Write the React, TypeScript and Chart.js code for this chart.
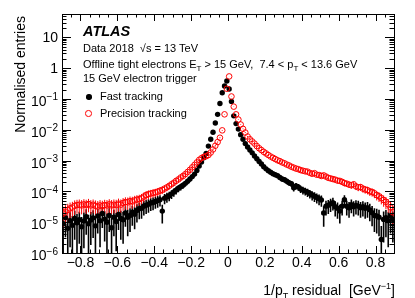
import React, { useEffect, useRef } from "react";
import { Chart, registerables } from "chart.js";

Chart.register(...registerables);

// ---------- axis ranges / binning ----------
const X_MIN = -0.9;
const X_MAX = 0.9;
const Y_MIN = 1e-6;
const Y_MAX = 57;
const BIN_WIDTH = 0.0125;
const N_BINS = 144;
const binCenters: number[] = Array.from({ length: N_BINS }, (_, i) =>
  Number((X_MIN + BIN_WIDTH * (i + 0.5)).toFixed(5))
);

// ---------- tick labels ----------
const xTickValues = [-0.8, -0.6, -0.4, -0.2, 0, 0.2, 0.4, 0.6, 0.8];
const xTickLabels = ["\u22120.8", "\u22120.6", "\u22120.4", "\u22120.2", "0", "0.2", "0.4", "0.6", "0.8"];
const yTickExponents = [1, 0, -1, -2, -3, -4, -5, -6];
const yTickBases = ["10", "1", "10", "10", "10", "10", "10", "10"];
const yTickSupers = ["", "", "\u22121", "\u22122", "\u22123", "\u22124", "\u22125", "\u22126"];

// effective unweighted entries per unit of normalised content (Poisson error bars)
const EFFECTIVE_ENTRIES = 1.2e5;

// ---------- series (normalised entries per bin) ----------
const precisionTracking = [
  1.9e-5, 2.2e-5, 2.5e-5, 2.8e-5, 3.0e-5, 3.4e-5, 3.6e-5, 3.7e-5, 3.5e-5, 3.8e-5,
  3.6e-5, 3.9e-5, 3.5e-5, 3.7e-5, 3.4e-5, 3.2e-5, 3.5e-5, 3.3e-5, 3.6e-5, 3.5e-5,
  3.8e-5, 3.5e-5, 3.7e-5, 3.6e-5, 4.0e-5, 3.7e-5, 4.2e-5, 4.5e-5, 4.4e-5, 4.8e-5,
  4.7e-5, 5.1e-5, 5.4e-5, 5.6e-5, 6.0e-5, 6.8e-5, 7.6e-5, 8.1e-5, 8.5e-5, 8.9e-5,
  9.3e-5, 9.8e-5, 1.05e-4, 1.12e-4, 1.23e-4, 1.35e-4, 1.51e-4, 1.70e-4, 1.91e-4, 2.19e-4,
  2.45e-4, 2.82e-4, 3.16e-4, 3.63e-4, 4.27e-4, 5.01e-4, 6.03e-4, 7.24e-4, 8.71e-4, 1.05e-3,
  1.20e-3, 1.32e-3, 1.38e-3, 1.51e-3, 1.82e-3, 2.29e-3, 3.02e-3, 3.98e-3, 5.50e-3, 9.55e-3,
  3.16e-2, 0.214, 0.537, 0.120, 5.62e-2, 3.16e-2, 2.14e-2, 1.48e-2, 1.07e-2, 8.13e-3,
  6.03e-3, 4.90e-3, 4.17e-3, 3.55e-3, 2.95e-3, 2.51e-3, 2.19e-3, 1.91e-3, 1.70e-3, 1.51e-3,
  1.35e-3, 1.23e-3, 1.12e-3, 1.02e-3, 9.55e-4, 8.71e-4, 8.13e-4, 7.41e-4, 6.92e-4, 6.31e-4,
  5.89e-4, 5.50e-4, 5.25e-4, 4.90e-4, 4.68e-4, 4.47e-4, 4.37e-4, 3.98e-4, 3.72e-4, 3.89e-4,
  3.47e-4, 3.39e-4, 3.16e-4, 3.31e-4, 3.02e-4, 2.75e-4, 2.63e-4, 2.51e-4, 2.40e-4, 2.24e-4,
  2.19e-4, 2.04e-4, 1.86e-4, 1.78e-4, 1.66e-4, 1.58e-4, 1.70e-4, 1.45e-4, 1.35e-4, 1.38e-4,
  1.23e-4, 1.15e-4, 1.10e-4, 1.00e-4, 9.55e-5, 8.71e-5, 7.59e-5, 6.92e-5, 6.03e-5, 5.25e-5,
  4.57e-5, 3.80e-5, 3.02e-5, 2.09e-5,
];

const fastTracking = [
  8.9e-6, 1.41e-5, 6.3e-6, 1.12e-5, 7.9e-6, 1.32e-5, 9.5e-6, 1.20e-5, 7.1e-6, 1.10e-5,
  1.51e-5, 8.9e-6, 1.17e-5, 1.38e-5, 7.6e-6, 1.58e-5, 1.12e-5, 1.91e-5, 1.26e-5, 1.0e-5,
  1.66e-5, 6.6e-6, 1.45e-5, 1.05e-5, 1.78e-5, 1.32e-5, 1.20e-5, 2.0e-5, 1.45e-5, 1.66e-5,
  2.09e-5, 1.82e-5, 2.40e-5, 2.75e-5, 2.82e-5, 3.31e-5, 3.55e-5, 3.80e-5, 4.17e-5, 4.37e-5,
  4.68e-5, 5.01e-5, 5.37e-5, 2.29e-5, 6.03e-5, 6.61e-5, 7.24e-5, 8.32e-5, 9.55e-5, 1.10e-4,
  1.26e-4, 1.41e-4, 1.58e-4, 1.82e-4, 2.14e-4, 2.51e-4, 3.02e-4, 3.63e-4, 4.79e-4, 6.61e-4,
  8.91e-4, 1.23e-3, 1.70e-3, 2.95e-3, 4.90e-3, 8.32e-3, 1.66e-2, 3.16e-2, 7.08e-2, 0.158,
  0.263, 0.380, 0.209, 8.32e-2, 2.82e-2, 1.58e-2, 1.05e-2, 6.92e-3, 4.90e-3, 3.55e-3,
  2.75e-3, 2.19e-3, 1.78e-3, 1.41e-3, 1.15e-3, 9.33e-4, 7.76e-4, 6.31e-4, 5.37e-4, 4.68e-4,
  4.17e-4, 3.72e-4, 3.47e-4, 3.24e-4, 2.82e-4, 2.51e-4, 2.40e-4, 2.14e-4, 1.91e-4, 1.78e-4,
  1.32e-4, 1.51e-4, 1.38e-4, 1.20e-4, 1.10e-4, 1.02e-4, 9.33e-5, 8.51e-5, 7.59e-5, 6.92e-5,
  6.31e-5, 5.75e-5, 5.25e-5, 2.0e-5, 3.31e-5, 3.55e-5, 3.98e-5, 4.27e-5, 3.16e-5, 2.82e-5,
  2.29e-5, 3.31e-5, 5.37e-5, 3.31e-5, 2.95e-5, 3.72e-5, 3.16e-5, 3.47e-5, 3.31e-5, 2.95e-5,
  3.16e-5, 2.82e-5, 2.95e-5, 2.51e-5, 2.04e-5, 1.66e-5, 1.58e-5, 1.45e-5, 2.75e-6, 1.23e-5,
  1.41e-5, 1.12e-5, 1.58e-5, 1.23e-5,
];

const RED = "#ff0000";
const BLACK = "#000000";
const FONT = '"Liberation Sans", Arial, Helvetica, sans-serif';

const SERIES = [
  { values: fastTracking, color: BLACK, errWidth: 1.6 },
  { values: precisionTracking, color: RED, errWidth: 1 },
];

const MAJOR = 7;
const MINOR = 3.5;

const atlasPlugin = {
  id: "atlasAxes",
  beforeDatasetsDraw(chart: any) {
    const ctx = chart.ctx as CanvasRenderingContext2D;
    const xs = chart.scales.x;
    const ys = chart.scales.y;
    const a = chart.chartArea;
    ctx.save();
    ctx.beginPath();
    ctx.rect(a.left, a.top, a.right - a.left, a.bottom - a.top);
    ctx.clip();
    SERIES.forEach((s) => {
      ctx.strokeStyle = s.color;
      ctx.lineWidth = s.errWidth;
      ctx.beginPath();
      s.values.forEach((v, i) => {
        const rel = 1 / Math.sqrt(v * EFFECTIVE_ENTRIES);
        const hi = v * (1 + rel);
        const lo = Math.max(v * (1 - rel), Y_MIN / 100);
        const px = xs.getPixelForValue(binCenters[i]);
        ctx.moveTo(px, ys.getPixelForValue(hi));
        ctx.lineTo(px, Math.min(ys.getPixelForValue(lo), a.bottom + 5));
      });
      ctx.stroke();
    });
    ctx.restore();
  },
  afterDraw(chart: any) {
    const ctx = chart.ctx as CanvasRenderingContext2D;
    const xs = chart.scales.x;
    const ys = chart.scales.y;
    const a = chart.chartArea;
    ctx.save();
    ctx.strokeStyle = BLACK;
    ctx.lineWidth = 1;
    ctx.strokeRect(a.left + 0.5, a.top + 0.5, a.right - a.left, a.bottom - a.top);
    ctx.beginPath();
    // x ticks (major every 0.2, minor every 0.05), bottom and top, pointing inward
    for (let k = 0; k <= 36; k++) {
      const v = (k - 18) / 20;
      const px = Math.round(xs.getPixelForValue(v)) + 0.5;
      const len = k % 4 === 2 ? MAJOR : MINOR;
      ctx.moveTo(px, a.bottom);
      ctx.lineTo(px, a.bottom - len);
      ctx.moveTo(px, a.top);
      ctx.lineTo(px, a.top + len);
    }
    // y ticks (log decades + minor 2..9)
    for (let e = -6; e <= 1; e++) {
      for (let m = 1; m <= 9; m++) {
        const v = m * Math.pow(10, e);
        if (v > Y_MAX || v < Y_MIN) continue;
        const py = Math.round(ys.getPixelForValue(v)) + 0.5;
        const len = m === 1 ? MAJOR + 2 : MINOR + 1;
        ctx.moveTo(a.left, py);
        ctx.lineTo(a.left + len, py);
        ctx.moveTo(a.right, py);
        ctx.lineTo(a.right - len, py);
      }
    }
    ctx.stroke();

    // x tick labels
    ctx.fillStyle = BLACK;
    ctx.font = `14px ${FONT}`;
    ctx.textAlign = "center";
    ctx.textBaseline = "alphabetic";
    xTickValues.forEach((v, i) => {
      ctx.fillText(xTickLabels[i], xs.getPixelForValue(v), a.bottom + 14);
    });

    // y tick labels with superscript exponents
    const rightEdge = a.left - 4;
    yTickExponents.forEach((e, i) => {
      const py = ys.getPixelForValue(Math.pow(10, e));
      const sup = yTickSupers[i];
      ctx.textAlign = "right";
      if (!sup) {
        ctx.font = `14px ${FONT}`;
        ctx.fillText(yTickBases[i], rightEdge, py + 5);
      } else {
        ctx.font = `10px ${FONT}`;
        const w = ctx.measureText(sup).width;
        ctx.fillText(sup, rightEdge, py + 1.5);
        ctx.font = `14px ${FONT}`;
        ctx.fillText(yTickBases[i], rightEdge - w, py + 7);
      }
    });
    ctx.restore();
  },
};

const BASE = 0.8465;

function Line(props: { left: number; baseline: number; size: number; style?: any; children: any }) {
  const { left, baseline, size, style, children } = props;
  return (
    <div
      style={{
        position: "absolute",
        left,
        top: baseline - BASE * size,
        fontSize: size,
        lineHeight: `${size}px`,
        whiteSpace: "pre",
        color: "#000",
        ...style,
      }}
    >
      {children}
    </div>
  );
}

const sub = (t: string, size = 8, dy = 3) => (
  <span style={{ fontSize: size, position: "relative", top: dy }}>{t}</span>
);
const sup = (t: string, size = 9, dy = -6) => (
  <span style={{ fontSize: size, position: "relative", top: dy }}>{t}</span>
);

export default function App() {
  const ref = useRef<HTMLCanvasElement>(null);

  useEffect(() => {
    if (!ref.current) return;
    const chart = new Chart(ref.current, {
      type: "scatter",
      data: {
        datasets: [
          {
            label: "Precision tracking",
            data: binCenters.map((x, i) => ({ x, y: precisionTracking[i] })),
            showLine: false,
            pointStyle: "circle",
            pointRadius: 2.8,
            pointBorderWidth: 1,
            pointBorderColor: RED,
            pointBackgroundColor: "rgba(0,0,0,0)",
          },
          {
            label: "Fast tracking",
            data: binCenters.map((x, i) => ({ x, y: fastTracking[i] })),
            showLine: false,
            pointStyle: "circle",
            pointRadius: 2.7,
            pointBorderWidth: 0,
            pointBorderColor: BLACK,
            pointBackgroundColor: BLACK,
          },
        ],
      },
      options: {
        responsive: false,
        animation: false,
        events: [],
        layout: { padding: { left: 62, top: 14, right: 21, bottom: 45 } },
        plugins: { legend: { display: false }, tooltip: { enabled: false } },
        scales: {
          x: { type: "linear", min: X_MIN, max: X_MAX, display: false },
          y: { type: "logarithmic", min: Y_MIN, max: Y_MAX, display: false },
        },
      },
      plugins: [atlasPlugin],
    });
    return () => chart.destroy();
  }, []);

  return (
    <div
      style={{
        position: "fixed",
        left: 0,
        top: 0,
        width: 415,
        height: 298,
        background: "#fff",
        overflow: "hidden",
        fontFamily: FONT,
      }}
    >
      <canvas ref={ref} width={415} height={298} style={{ position: "absolute", left: 0, top: 0 }} />

      <Line left={83} baseline={36} size={14.5} style={{ fontWeight: "bold", fontStyle: "italic" }}>
        ATLAS
      </Line>
      <Line left={83} baseline={52.5} size={11}>
        {"Data 2018  \u221As = 13 TeV"}
      </Line>
      <Line left={83} baseline={68.3} size={11}>
        {"Offline tight electrons E"}
        {sub("T")}
        {" > 15 GeV,  7.4 < p"}
        {sub("T")}
        {" < 13.6 GeV"}
      </Line>
      <Line left={83} baseline={82.3} size={11}>
        15 GeV electron trigger
      </Line>

      <div
        style={{
          position: "absolute",
          left: 89 - 2.7,
          top: 97 - 2.7,
          width: 5.4,
          height: 5.4,
          borderRadius: "50%",
          background: BLACK,
        }}
      />
      <Line left={100} baseline={100.5} size={11}>
        Fast tracking
      </Line>
      <div
        style={{
          position: "absolute",
          left: 88.5 - 3.3,
          top: 113.3 - 3.3,
          width: 4.6,
          height: 4.6,
          borderRadius: "50%",
          border: `1px solid ${RED}`,
        }}
      />
      <Line left={100} baseline={117} size={11}>
        Precision tracking
      </Line>

      {/* y axis title */}
      <div
        style={{
          position: "absolute",
          left: 25 - BASE * 14,
          top: 16 + 160,
          width: 160,
          textAlign: "right",
          fontSize: 14,
          lineHeight: "14px",
          whiteSpace: "nowrap",
          transform: "rotate(-90deg)",
          transformOrigin: "0 0",
          color: "#000",
        }}
      >
        Normalised entries
      </div>

      {/* x axis title */}
      <div
        style={{
          position: "absolute",
          right: 20,
          top: 295 - BASE * 14,
          fontSize: 14,
          lineHeight: "14px",
          whiteSpace: "pre",
          color: "#000",
        }}
      >
        {"1/p"}
        {sub("T", 9, 4)}
        {" residual  [GeV"}
        {sup("\u22121", 9, -6)}
        {"]"}
      </div>
    </div>
  );
}
